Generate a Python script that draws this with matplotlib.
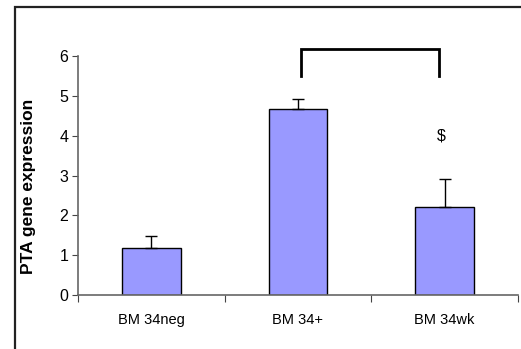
import matplotlib.pyplot as plt
from matplotlib.patches import Rectangle

plt.rcParams['font.family'] = ['Liberation Sans', 'DejaVu Sans']

groups = ['BM 34neg', 'BM 34+', 'BM 34wk']
means = [1.17, 4.67, 2.20]
errs = [0.30, 0.26, 0.70]
yticks = [0, 1, 2, 3, 4, 5, 6]

fig = plt.figure(figsize=(5.21, 3.49), dpi=100)
ax = fig.add_axes([0.1497, 0.1547, 0.8443, 0.6848])

x = range(len(groups))
ax.bar(x, means, width=0.4, color='#9999FF', edgecolor='black', linewidth=1, zorder=2)
ax.errorbar(x, means, yerr=[[0] * len(errs), errs], fmt='none', ecolor='black',
            elinewidth=1, capsize=4, capthick=1, zorder=3)

# significance bracket between BM 34+ and BM 34wk
ax.plot([1.02, 1.02, 1.96, 1.96], [5.5, 6.17, 6.17, 5.5], color='black', lw=2,
        clip_on=False, solid_joinstyle='miter')
ax.text(1.98, 4.0, '$', ha='center', va='center', fontsize=11.5)

ax.set_xlim(-0.5, 2.5)
ax.set_ylim(0, 6)
ax.set_yticks(yticks)
ax.set_xticks([-0.5, 0.5, 1.5, 2.5])
ax.set_xticklabels([])
ax.set_xticks(list(x), minor=True)
ax.set_xticklabels(groups, minor=True, fontsize=10.5)
ax.tick_params(axis='x', which='minor', length=0, pad=13)
ax.tick_params(axis='x', which='major', length=5, direction='out', color='#444444')
ax.tick_params(axis='y', length=4, direction='out', color='#444444', labelsize=11.5, pad=3)

for s in ['top', 'right']:
    ax.spines[s].set_visible(False)
for s in ['left', 'bottom']:
    ax.spines[s].set_color('#666666')
    ax.spines[s].set_linewidth(1.2)

ax.set_ylabel('PTA gene expression', fontsize=12.5, fontweight='bold')
ax.yaxis.set_label_coords(-0.095, 0.453)

# outer frame
fig.add_artist(Rectangle((0.028, -0.1), 1.2, 1.08, transform=fig.transFigure,
                         fill=False, edgecolor='#222222', lw=1.6))

fig.savefig('out.png', dpi=100)
